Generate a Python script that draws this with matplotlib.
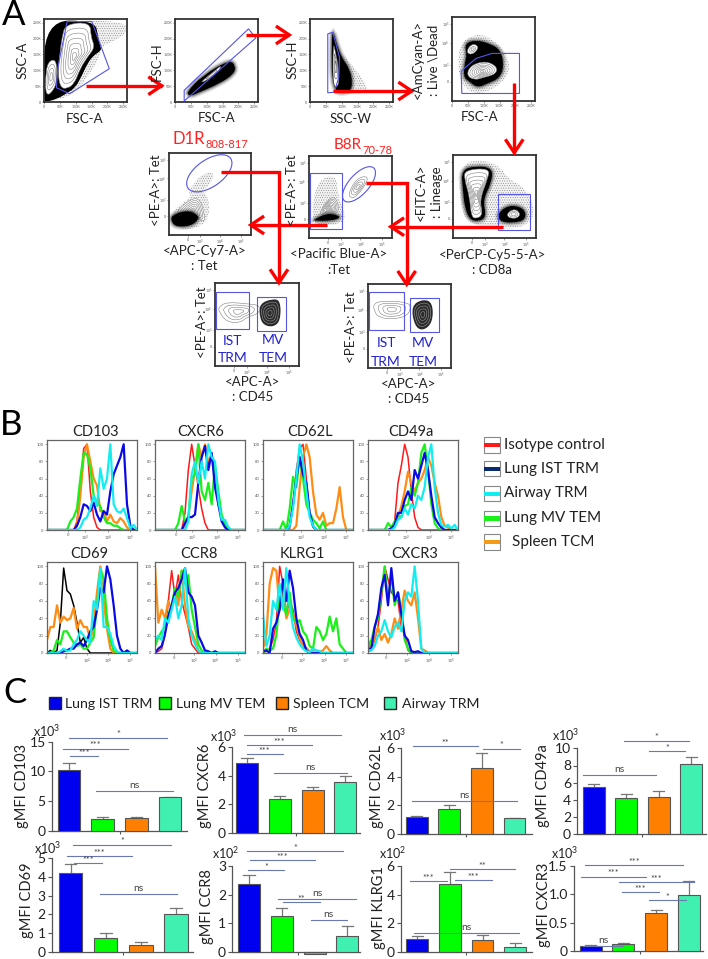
import numpy as np
import matplotlib
matplotlib.use('Agg')
import matplotlib.pyplot as plt
from matplotlib.patches import Polygon, PathPatch, Ellipse, Rectangle
from matplotlib.path import Path

plt.rcParams['font.family'] = ['Lato', 'DejaVu Sans']
plt.rcParams['mathtext.fontset'] = 'custom'
plt.rcParams['mathtext.rm'] = 'Lato'
plt.rcParams['hatch.linewidth'] = 0.3

W, H = 708, 959

# ---- histogram data, x grid is shared by all curves
hist_x = list(range(0, 280, 10))
cd103_red = [0,0,0,0,0,0,0,0,0,10,50,95,100,45,15,3,0,0,0,0,0,0,0,0,0,0,0,0]
cd103_orange = [0,0,0,0,0,0,0,0,0,5,40,85,100,80,60,52,22,22,10,18,10,8,14,10,3,0,0,0]
cd103_green = [0,0,0,0,0,0,0,10,15,25,60,90,88,72,40,32,28,15,8,8,5,5,2,0,0,0,0,0]
cd103_blue = [0,0,0,0,0,0,0,0,0,5,15,30,28,22,32,18,10,22,18,45,65,75,85,100,30,5,0,0]
cd103_cyan = [0,0,0,0,0,0,0,0,0,0,3,12,15,25,40,28,72,48,60,100,30,22,20,25,14,2,6,0]

cxcr6_red = [0,0,0,0,0,0,0,0,0,20,70,100,75,50,25,8,0,0,0,0,0,0,0,0,0,0,0,0]
cxcr6_orange = [0,0,0,0,0,0,0,0,0,5,15,45,70,100,85,100,78,88,65,30,15,8,2,0,0,0,0,0]
cxcr6_green = [0,0,0,0,0,0,0,8,28,10,15,60,65,100,45,35,55,30,75,45,18,5,0,0,0,0,0,0]
cxcr6_blue = [0,0,0,0,0,0,0,0,0,8,15,15,18,55,85,98,70,90,50,30,10,3,0,0,0,0,0,0]
cxcr6_cyan = [0,0,0,0,0,0,0,0,0,0,10,65,80,55,80,60,100,85,80,35,12,12,3,0,0,0,0,0]

cd62l_red = [0,0,0,0,0,0,0,0,2,30,70,95,100,60,20,3,0,0,0,0,0,0,0,0,0,0,0,0]
cd62l_orange = [0,0,0,0,0,0,0,0,0,0,5,50,85,100,85,45,18,12,20,5,8,8,25,50,15,0,0,0]
cd62l_green = [0,0,0,0,0,0,10,0,25,62,50,85,60,30,20,12,8,2,10,0,0,0,0,0,0,0,0,0]
cd62l_blue = [0,0,0,0,0,0,0,0,5,30,60,85,65,55,20,5,0,0,0,0,0,0,0,0,0,0,0,0]
cd62l_cyan = [0,0,0,0,0,0,0,0,5,25,60,100,80,45,15,5,0,0,0,0,0,0,0,0,0,0,0,0]

cd49a_red = [0,0,0,0,0,0,0,3,10,55,75,100,85,45,15,3,0,0,0,0,0,0,0,0,0,0,0,0]
cd49a_orange = [0,0,0,0,0,0,0,0,5,15,28,45,68,55,45,55,60,70,85,75,55,40,15,5,3,0,0,0]
cd49a_green = [0,0,0,0,0,0,8,3,10,18,15,28,30,50,40,55,90,100,70,30,8,2,0,0,0,0,0,0]
cd49a_blue = [0,0,0,0,0,0,0,2,6,20,20,35,45,35,70,60,75,90,70,40,15,8,3,0,0,0,0,0]
cd49a_cyan = [0,0,0,0,0,0,0,0,3,12,15,25,18,30,25,40,35,50,85,100,50,20,6,4,6,2,6,0]

cd69_black = [0,3,0,3,35,98,72,68,55,35,12,18,5,0,0,0,0,0,0,0,0,0,0,0,0,0,0,0]
cd69_orange = [15,30,30,55,35,42,38,40,52,28,38,30,30,15,30,70,100,60,28,5,0,0,0,0,0,0,0,0]
cd69_green = [0,0,3,15,10,25,25,18,12,8,10,5,5,12,18,55,98,85,40,15,3,0,0,0,0,0,0,0]
cd69_blue = [0,0,0,0,0,2,3,5,5,10,12,8,15,25,30,50,75,70,100,85,55,20,5,0,3,0,0,0]
cd69_cyan = [0,0,0,0,2,5,2,3,10,15,25,20,15,12,60,50,98,30,30,22,8,2,0,0,0,0,0,0]

ccr8_red = [0,2,5,20,60,95,65,90,60,45,30,10,5,0,0,0,0,0,0,0,0,0,0,0,0,0,0,0]
ccr8_orange = [100,35,50,40,60,50,75,55,95,55,30,25,15,3,0,0,0,0,0,0,0,0,0,0,0,0,0,0]
ccr8_green = [8,18,25,30,45,55,75,65,95,80,90,50,30,10,3,0,0,0,0,0,0,0,0,0,0,0,0,0]
ccr8_blue = [0,5,8,22,42,55,70,75,85,98,70,65,55,20,12,3,2,0,2,0,0,0,0,0,0,0,0,0]
ccr8_cyan = [15,20,15,40,35,50,65,40,55,98,40,20,10,3,0,0,0,0,0,0,0,0,0,0,0,0,0,0]

klrg1_red = [0,2,5,15,35,100,80,45,60,50,25,15,8,3,0,0,0,0,0,0,0,0,0,0,0,0,0,0]
klrg1_orange = [5,20,80,98,95,50,70,40,50,45,32,18,8,6,2,3,3,1,3,8,3,0,0,0,0,0,0,0]
klrg1_green = [0,5,3,5,20,65,55,45,70,40,35,38,25,20,8,5,30,25,15,22,42,25,40,10,5,0,0,0]
klrg1_blue = [2,3,0,28,35,50,85,60,95,75,40,22,15,3,0,0,0,0,0,0,0,0,0,0,0,0,0,0]
klrg1_cyan = [45,8,20,60,50,80,50,98,55,30,18,10,5,2,1,5,3,2,0,0,0,0,0,0,0,0,0,0]

cxcr3_red = [2,3,15,30,60,100,85,70,65,60,30,22,3,0,0,0,0,0,0,0,0,0,0,0,0,0,0,0]
cxcr3_orange = [15,5,18,30,15,22,12,22,40,28,50,72,60,55,70,40,5,3,0,0,0,0,0,0,0,0,0,0]
cxcr3_green = [5,15,30,40,70,100,60,90,55,70,50,15,5,0,0,0,0,0,0,0,0,0,0,0,0,0,0,0]
cxcr3_blue = [5,5,30,45,75,90,55,98,60,70,45,20,15,2,1,2,0,0,0,0,0,0,0,0,0,0,0,0]
cxcr3_cyan = [3,3,8,20,25,38,25,18,30,35,25,60,70,65,100,60,5,0,0,0,0,0,0,0,0,0,0,0]

# ---- bar data: means and top of the error bars
cell_types = ['Lung IST TRM', 'Lung MV TEM', 'Spleen TCM', 'Airway TRM']
cd103_mean = [10.3, 2.0, 2.1, 5.7]
cd103_top = [11.45, 2.4, 2.3, 5.75]
cxcr6_mean = [4.86, 2.36, 2.98, 3.58]
cxcr6_top = [5.25, 2.6, 3.2, 3.95]
cd62l_mean = [1.22, 1.73, 4.62, 1.1]
cd62l_top = [1.25, 2.0, 5.66, 1.12]
cd49a_mean = [5.5, 4.26, 4.3, 8.14]
cd49a_top = [5.88, 4.72, 5.0, 9.02]
cd69_mean = [4.17, 0.77, 0.37, 2.03]
cd69_top = [4.65, 1.0, 0.53, 2.36]
ccr8_mean = [2.36, 1.25, -0.06, 0.55]
ccr8_top = [2.68, 1.52, -0.06, 0.92]
klrg1_mean = [0.87, 4.73, 0.82, 0.33]
klrg1_top = [1.07, 5.6, 1.15, 0.58]
cxcr3_mean = [0.088, 0.118, 0.665, 0.98]
cxcr3_top = [0.105, 0.15, 0.72, 1.23]

# ---- gating outlines, FSC/SSC in K, log axes in display units 0-100
a1_halo = [(2,257),(260,257),(260,215),(213,189),(177,173),(177,142),(146,94),(114,47),(78,16),(10,0),(0,5)]
a1_black = [(0,257),(161,257),(171,205),(177,178),(182,163),(156,147),(137,121),(120,84),(99,45),(73,28),(42,10),(5,0),(0,5)]
a1_main = [(68,246),(146,252),(148,205),(161,173),(137,142),(114,105),(96,58),(73,42),(52,45),(44,89),(50,152),(57,205)]
a1_left = [(5,16),(5,94),(16,131),(40,133),(40,68),(31,37)]
a1_gate = [(73,254),(151,254),(206,105),(81,26),(39,45),(44,110)]
a2_black = [(36,31),(88,84),(172,133),(191,115),(187,89),(140,58),(78,31),(47,18)]
a2_core = [(78,60),(120,94),(149,118),(135,94),(99,68)]
a2_gate = [(29,37),(232,231),(255,202),(29,3)]
a3_halo = [(70,230),(85,180),(110,140),(155,90),(185,40),(175,25),(70,25)]
a3_black = [(70,30),(68,200),(73,225),(85,180),(100,140),(125,105),(135,60),(125,30)]
a3_core = [(72,45),(73,190),(80,160),(90,110),(92,50)]
a3_gate = [(56,215),(72,220),(93,141),(91,79),(77,31),(56,29)]
a4_halo = [(24,69),(76,81),(128,75),(180,53),(180,29),(118,11),(65,9),(29,21),(19,41)]
a4_black = [(40,69),(76,73),(118,69),(154,61),(164,41),(149,27),(112,21),(81,16),(55,23),(36,29),(40,45),(47,55)]
a4_top = [(45,59),(60,68),(81,67),(81,61),(60,55)]
a4_main = [(45,31),(60,43),(107,48),(143,41),(138,32),(97,28),(71,25)]
a4_gate = [(31,9),(29,36),(76,51),(126,57),(213,57),(213,9)]
a5_halo = [(10,88),(30,95),(55,88),(68,70),(85,62),(98,40),(95,18),(70,10),(20,15),(8,40)]
a5_black1 = [(10,82),(28,87),(48,84),(46,66),(36,46),(40,26),(32,20),(20,22),(14,38),(12,58)]
a5_black2 = [(54,30),(68,40),(86,36),(88,22),(72,18),(56,20)]
a5_core1 = [(14,82),(44,84),(42,72),(32,46),(36,28),(28,23),(22,26),(20,50),(14,70)]
a5_core2 = [(64,28),(72,35),(80,32),(80,25),(70,23)]
a5_gate = [(54,53),(93,53),(93,10),(54,10)]
d1r_halo = [(1,26),(21,42),(37,56),(49,46),(49,18),(29,6),(5,10)]
d1r_white = [(7,26),(23,42),(37,46),(43,26),(44,16),(33,20),(21,29)]
d1r_core = [(3,24),(21,30),(33,26),(37,20),(27,11),(9,10),(3,16)]
d1r_cloud = [(23,52),(37,72),(53,78),(55,70),(43,54),(27,46)]
b8r_halo = [(3,26),(9,70),(33,78),(35,50),(45,26),(37,16),(9,16)]
b8r_white = [(11,28),(23,48),(33,50),(37,30),(21,30)]
b8r_core = [(5,22),(21,30),(35,28),(37,24),(25,21),(9,21)]
b8r_ring = [(47,54),(57,72),(69,76),(71,70),(59,52),(51,48)]
ist1_left = [(4,71),(14,77),(38,75),(54,73),(52,63),(38,59),(30,52),(14,53),(5,65)]
ist1_right = [(53,75),(68,81),(78,79),(78,55),(70,47),(58,49),(53,59)]
ist2_left = [(6,78),(26,80),(46,78),(52,74),(48,62),(30,58),(14,60),(8,66)]
ist2_right = [(52,74),(66,82),(78,78),(78,54),(66,44),(56,50)]

fig = plt.figure(figsize=(W / 100, H / 100), dpi=100, facecolor='white')
over = fig.add_axes([0, 0, 1, 1], zorder=20)
over.set_xlim(0, W)
over.set_ylim(H, 0)
over.axis('off')
over.patch.set_alpha(0)

GATE = '#5555e8'
TXT = '#222222'


def px_axes(x0, y0, x1, y1):
    return fig.add_axes([x0 / W, 1 - y1 / H, (x1 - x0) / W, (y1 - y0) / H])


def label(x, y, s, size=9.5, rot=0, color=TXT, ha='center'):
    over.text(x, y, s, fontsize=size, rotation=rot, color=color, ha=ha, va='center')


def smooth(points):
    # closed rounded outline through the midpoints of the digitised polygon
    pts = np.array(points, float)
    mids = (pts + np.roll(pts, -1, axis=0)) / 2
    verts = [mids[-1]]
    codes = [Path.MOVETO]
    for p, m in zip(pts, mids):
        verts += [p, m]
        codes += [Path.CURVE3, Path.CURVE3]
    return Path(verts, codes)


def blob(ax, points, fc='black', ec='none', lw=0.0, hatch=None, z=2, soft=True):
    # soft grey strokes stand in for the loose dots round each population
    if fc == 'black' and soft:
        for width, a in ((5, .15), (3, .25), (1.5, .4)):
            ax.add_patch(PathPatch(smooth(points), fc='none', ec='#333333', lw=width, alpha=a, zorder=z))
    ax.add_patch(PathPatch(smooth(points), fc=fc, ec=ec, lw=lw, hatch=hatch, zorder=z))


def contours(ax, points, scales=(1, .85, .7, .55, .4, .25, .12), ec='#808080', fill=True):
    pts = np.array(points, float)
    mid = pts.mean(axis=0)
    for i, s in enumerate(scales):
        fc = 'white' if (i == 0 and fill) else 'none'
        blob(ax, mid + (pts - mid) * s, fc=fc, ec=ec, lw=0.4, z=3)


def stipple(ax, points):
    blob(ax, points, fc='#f2f2f2', ec='#777777', lw=0, hatch='.......', z=1)


def gate(ax, points):
    ax.add_patch(Polygon(points, closed=True, fc='none', ec=GATE, lw=0.8, zorder=5))


def flow_axes(box, xlim, ylim, xticks, xlabels, yticks, ylabels):
    ax = px_axes(*box)
    ax.set_xlim(*xlim)
    ax.set_ylim(*ylim)
    ax.set_xticks(xticks, xlabels)
    ax.set_yticks(yticks, ylabels)
    ax.tick_params(length=1.5, width=0.4, labelsize=2.6, pad=0.6, colors='#555555')
    for s in ax.spines.values():
        s.set_linewidth(1.3)
        s.set_color('#333333')
    return ax


k_ticks = [0, 50, 100, 150, 200, 250]
k_labels = ['0', '50K', '100K', '150K', '200K', '250K']
log_x = [23, 38, 62, 88]
log_x_labels = ['0', '$10^3$', '$10^4$', '$10^5$']
log_y = [23, 43, 69, 92]
log_y_labels = ['0', '$10^3$', '$10^4$', '$10^5$']

# ---- panel A
ax = flow_axes((44, 19, 127, 102), (0, 262), (0, 262), k_ticks, k_labels, k_ticks, k_labels)
stipple(ax, a1_halo)
blob(ax, a1_black, soft=False)
contours(ax, a1_main)
contours(ax, a1_left, (1, .75, .5, .25))
gate(ax, a1_gate)

ax = flow_axes((175, 19, 258, 102), (0, 262), (0, 262), k_ticks, k_labels, k_ticks, k_labels)
blob(ax, a2_black)
contours(ax, a2_core, (1, .6))
gate(ax, a2_gate)

ax = flow_axes((310, 19, 393, 102), (0, 262), (0, 262), k_ticks, k_labels, k_ticks, k_labels)
stipple(ax, a3_halo)
blob(ax, a3_black)
contours(ax, a3_core, (1, .6, .3), ec='#555555')
gate(ax, a3_gate)

ax = flow_axes((452, 17.5, 535, 101), (0, 262), (0, 100), k_ticks, k_labels, log_y, log_y_labels)
stipple(ax, a4_halo)
blob(ax, a4_black)
contours(ax, a4_top, (1, .6, .3))
contours(ax, a4_main)
gate(ax, a4_gate)

ax = flow_axes((453, 155, 536, 238), (0, 100), (0, 100), log_x, log_x_labels, log_y, log_y_labels)
stipple(ax, a5_halo)
blob(ax, a5_black1)
blob(ax, a5_black2)
contours(ax, a5_core1)
contours(ax, a5_core2, (1, .7, .4))
gate(ax, a5_gate)

ax = flow_axes((169, 153, 251, 235), (0, 100), (0, 100), log_x, log_x_labels, log_y, log_y_labels)
stipple(ax, d1r_cloud)
stipple(ax, d1r_halo)
contours(ax, d1r_white)
blob(ax, d1r_core, z=4)

ax = flow_axes((309, 156, 392, 238), (0, 100), (0, 100), log_x, log_x_labels, log_y, log_y_labels)
stipple(ax, b8r_halo)
contours(ax, b8r_white)
blob(ax, b8r_core, z=4)
contours(ax, b8r_ring, (1, .75, .5, .25))
ax.add_patch(Rectangle((1, 11), 39, 68, fc='none', ec=GATE, lw=0.8, zorder=5))

for box, left, right, r1, r2 in [((215, 283, 299, 366), ist1_left, ist1_right, (1, 89, 40, 44), (50, 83, 35, 41)),
                                 ((368, 284, 451, 368), ist2_left, ist2_right, (1, 90, 42, 45), (50, 83, 35, 40))]:
    ax = flow_axes(box, (0, 100), (0, 100), log_x, log_x_labels, log_y, log_y_labels)
    contours(ax, left, (1, .75, .5, .25))
    blob(ax, right, fc='#2a2a2a')
    contours(ax, right, (.8, .6, .4, .2), ec='#9a9a9a', fill=False)
    for x, y, w, h in (r1, r2):
        ax.add_patch(Rectangle((x, y - h), w, h, fc='none', ec=GATE, lw=0.8, zorder=5))

over.add_patch(Ellipse((209.3, 173.3), 52, 27, angle=-35, fc='none', ec=GATE, lw=0.8))
over.add_patch(Ellipse((359, 184.3), 44, 20, angle=-48, fc='none', ec=GATE, lw=0.8))


def arrow(points):
    xs, ys = zip(*points)
    over.plot(xs, ys, color='#ff0000', lw=2.4, solid_capstyle='butt', solid_joinstyle='miter')
    (x0, y0), (x1, y1) = points[-2], points[-1]
    d = np.array([x1 - x0, y1 - y0], float)
    d /= np.hypot(*d)
    n = np.array([-d[1], d[0]])
    tip = np.array([x1, y1])
    a = tip - d * 12 + n * 8
    b = tip - d * 12 - n * 8
    over.plot([a[0], tip[0], b[0]], [a[1], tip[1], b[1]], color='#ff0000', lw=2.4, solid_joinstyle='miter')


arrow([(86, 85.7), (161.7, 85.7)])
arrow([(245.7, 35), (289.3, 35)])
arrow([(333, 91), (411.7, 91)])
arrow([(514.3, 83.3), (514.3, 152.7)])
arrow([(503, 226.7), (390.7, 226.7)])
arrow([(326.7, 225), (250.7, 225)])
arrow([(221, 172.3), (279, 172.3), (279, 282.7)])
arrow([(365.7, 183.3), (406.7, 183.3), (406.7, 284.3)])

label(14, 15, 'A', 25, color='black')
label(11, 425, 'B', 25, color='black')
label(15, 693, 'C', 25, color='black')

label(85, 119, 'FSC-A')
label(23, 60, 'SSC-A', rot=90)
label(216.7, 118.3, 'FSC-A')
label(156.7, 61.7, 'FSC-H', rot=90)
label(351, 119, 'SSC-W')
label(293, 60, 'SSC-H', rot=90)
label(418, 59, '<AmCyan-A>', rot=90)
label(434, 60, ': Live \\Dead', rot=90)
label(480, 117.3, 'FSC-A')
label(421, 192.7, '<FITC-A>', rot=90)
label(436.7, 191.7, ': Lineage', rot=90)
label(492.3, 255, '<PerCP-Cy5-5-A>')
label(492.3, 270, ': CD8a')
label(156, 190, '<PE-A>: Tet', rot=90)
label(204.3, 250.7, '<APC-Cy7-A>')
label(204.3, 266, ': Tet')
label(291.7, 190, '<PE-A>: Tet', rot=90)
label(338.7, 254, '<Pacific Blue-A>')
label(338.7, 270, ':Tet')
label(201.7, 321.7, '<PE-A>: Tet', rot=90)
label(252.7, 382.3, '<APC-A>')
label(252.7, 396.7, ': CD45')
label(350.7, 326.7, '<PE-A>: Tet', rot=90)
label(408.3, 384, '<APC-A>')
label(408.3, 399, ': CD45')

label(172.3, 139, 'D1R', 12, color='#ff2222', ha='left')
label(205, 145, '808-817', 8, color='#ff2222', ha='left')
label(333.3, 145, 'B8R', 11, color='#ff2222', ha='left')
label(362.7, 151, '70-78', 8, color='#ff2222', ha='left')

BLUE_TXT = '#2222cc'
for x, y, s in [(232.7, 340.7, 'IST'), (232.7, 358.3, 'TRM'), (273.3, 340, 'MV'), (273.3, 358.3, 'TEM'),
                (386, 343.3, 'IST'), (386, 361.7, 'TRM'), (423.3, 343.3, 'MV'), (423.3, 361.7, 'TEM')]:
    label(x, y, s, 10, color=BLUE_TXT)

# ---- panel B
H_RED, H_BLUE, H_CYAN, H_GREEN, H_ORANGE = '#ff1a1a', '#0a0ae6', '#12eef0', '#1af01a', '#ff8c14'


def hist_panel(box, title, title_x, first, orange, green, blue, cyan, xt, first_color=H_RED):
    ax = px_axes(*box)
    ax.plot(hist_x, first, color=first_color, lw=1.1)
    ax.plot(hist_x, orange, color=H_ORANGE, lw=1.6)
    ax.plot(hist_x, green, color=H_GREEN, lw=1.6)
    ax.plot(hist_x, blue, color=H_BLUE, lw=1.6)
    ax.plot(hist_x, cyan, color=H_CYAN, lw=1.6)
    ax.set_xlim(0, 270)
    ax.set_ylim(0, 105)
    ax.set_xticks(xt, ['0', '$10^3$', '$10^4$', '$10^5$'])
    ax.set_yticks([0, 20, 40, 60, 80, 100])
    ax.tick_params(length=1.5, width=0.4, labelsize=3, pad=1, colors='#555555')
    for s in ax.spines.values():
        s.set_linewidth(0.9)
        s.set_color('#666666')
    label(title_x, box[1] - 8, title, 10.5)


hist_panel((47, 440, 137, 530), 'CD103', 95.7, cd103_red, cd103_orange, cd103_green, cd103_blue, cd103_cyan, [63, 113, 183, 248])
hist_panel((155, 440, 245, 530), 'CXCR6', 201, cxcr6_red, cxcr6_orange, cxcr6_green, cxcr6_blue, cxcr6_cyan, [62, 112, 186, 249])
hist_panel((263, 440, 353, 530), 'CD62L', 310, cd62l_red, cd62l_orange, cd62l_green, cd62l_blue, cd62l_cyan, [63, 115, 185, 250])
hist_panel((368, 440, 458, 530), 'CD49a', 410.7, cd49a_red, cd49a_orange, cd49a_green, cd49a_blue, cd49a_cyan, [63, 113, 185, 248])
hist_panel((47, 562, 137, 653), 'CD69', 89, cd69_black, cd69_orange, cd69_green, cd69_blue, cd69_cyan, [56, 120, 183, 248], first_color='black')
hist_panel((155, 562, 245, 653), 'CCR8', 199.3, ccr8_red, ccr8_orange, ccr8_green, ccr8_blue, ccr8_cyan, [56, 116, 182, 249])
hist_panel((263, 562, 353, 653), 'KLRG1', 302.7, klrg1_red, klrg1_orange, klrg1_green, klrg1_blue, klrg1_cyan, [58, 117, 185, 250])
hist_panel((368, 562, 458, 653), 'CXCR3', 415, cxcr3_red, cxcr3_orange, cxcr3_green, cxcr3_blue, cxcr3_cyan, [55, 117, 183, 248])

for y0, c, s, tx in [(437.3, H_RED, 'Isotype control', 504), (461, '#0a2a70', 'Lung IST TRM', 504),
                     (486, H_CYAN, 'Airway TRM', 504), (510.7, H_GREEN, 'Lung MV TEM', 504),
                     (534.3, '#f59a14', 'Spleen TCM', 511.7)]:
    over.add_patch(Rectangle((484.3, y0), 16, 15.4, fc='white', ec='#888888', lw=0.8))
    over.add_patch(Rectangle((484.3, y0 + 5.5), 16, 4.4, fc=c, ec='none'))
    label(tx, y0 + 7.5, s, 11, ha='left')

# ---- panel C
C_BLUE, C_GREEN, C_ORANGE, C_TEAL = '#0000f0', '#00ff00', '#ff7f00', '#40f0b0'
bar_colors = [C_BLUE, C_GREEN, C_ORANGE, C_TEAL]
for x, tx, c, s in zip([49, 158.7, 275.7, 384], [65, 176, 292.7, 401.7], bar_colors, cell_types):
    over.add_patch(Rectangle((x, 697), 12, 12, fc=c, ec='#222222', lw=1))
    label(tx, 703.5, s, 10.2, ha='left')


def bar_panel(box, y_max, first, step, means, tops, ticks, tick_labels, name, name_pos, mult, mult_pos, sig):
    ax = px_axes(*box)
    xs = np.arange(4)
    ax.bar(xs, means, width=0.67, color=bar_colors, edgecolor='#555555', lw=0.8, zorder=3, clip_on=False)
    for x, m, t in zip(xs, means, tops):
        if t > m:
            ax.plot([x, x], [m, t], color='#777777', lw=0.9, zorder=2)
            ax.plot([x - .17, x + .17], [t, t], color='#777777', lw=0.9, zorder=2)
    ax.set_xlim((box[0] - first) / step, (box[2] - first) / step)
    ax.set_ylim(0, y_max)
    ax.set_xticks([1.5], [''])
    ax.set_yticks(ticks, tick_labels)
    ax.tick_params(axis='y', length=3, width=0.8, labelsize=10, pad=1.5, labelcolor=TXT, color='#555555')
    ax.tick_params(axis='x', length=2, width=0.8, color='#555555')
    for s in ('top', 'right'):
        ax.spines[s].set_visible(False)
    for s in ('left', 'bottom'):
        ax.spines[s].set_linewidth(0.9)
        ax.spines[s].set_color('#555555')
    label(name_pos[0], name_pos[1], name, 10.5, rot=90)
    label(mult_pos[0], mult_pos[1], mult, 9)
    for y, x0, x1, s in sig:
        over.plot([x0, x1], [y, y], color='#6a78b0', lw=0.8)
        if s == 'ns':
            label((x0 + x1) / 2, y - 5.5, s, 7.5, color='#444444')
        else:
            label((x0 + x1) / 2, y - 3, s, 6.5, color='#444444')


bar_panel((52, 741.7, 187, 831), 15, 69, 33.7, cd103_mean, cd103_top, [0, 5, 10, 15], ['0', '5', '10', '15'],
          'gMFI CD103', (22, 786), 'x$10^3$', (47, 731),
          [(737.7, 69, 166.7, '*'), (749, 62.7, 127.7, '***'), (756, 70, 98, '***'), (791, 96, 172.7, 'ns')])
bar_panel((231.7, 746.7, 360, 833.3), 6, 247, 32.8, cxcr6_mean, cxcr6_top, [0, 2, 4, 6], ['0', '2', '4', '6'],
          'gMFI CXCR6', (205, 786), 'x$10^3$', (224, 736),
          [(735.3, 244, 340.7, 'ns'), (745.3, 246.7, 311.7, '***'), (754.3, 246.7, 282.7, '***'), (773.3, 274, 346.7, 'ns')])
bar_panel((400.7, 747.7, 531.7, 834.3), 6, 416.7, 32.6, cd62l_mean, cd62l_top, [0, 2, 4, 6], ['0', '2', '4', '6'],
          'gMFI CD62L', (377, 786), 'x$10^3$', (393, 735),
          [(746.3, 412.7, 477.7, '**'), (749, 483.3, 520, '*'), (801.3, 411.7, 516.7, 'ns')])
bar_panel((577.3, 748.3, 706, 834.3), 10, 593.7, 32.5, cd49a_mean, cd49a_top, [0, 2, 4, 6, 8, 10], ['0', '2', '4', '6', '8', '10'],
          'gMFI CD49a', (543, 786), 'x$10^3$', (566, 735),
          [(740.7, 624.3, 689.3, '*'), (751.3, 649, 685, '*'), (775.3, 582.7, 656, 'ns')])
bar_panel((52, 857.7, 192.7, 952.3), 5, 70.5, 35.2, cd69_mean, cd69_top, [0, 1, 2, 3, 4, 5], ['0', '1', '2', '3', '4', '5'],
          'gMFI CD69', (27, 900), 'x$10^3$', (48, 847.7),
          [(845, 73.3, 171, '*'), (856, 66.7, 131.7, '***'), (863.3, 74, 102.3, '***'), (894.3, 100, 177.3, 'ns')])
bar_panel((232.3, 866, 360, 952), 3, 249, 32.8, ccr8_mean, ccr8_top, [0, 1, 2, 3], ['0', '1', '2', '3'],
          'gMFI CCR8', (207, 907), 'x$10^2$', (225.5, 852.7),
          [(851.3, 246.7, 343.3, '*'), (860, 250, 315, '***'), (870, 248.3, 284, '*'), (899.3, 278.3, 356, 'ns'),
           (902.3, 283.3, 320, '**'), (919.7, 310.7, 346.7, 'ns')])
bar_panel((401, 866, 531.7, 951.7), 6, 417.3, 32.6, klrg1_mean, klrg1_top, [0, 2, 4, 6], ['0', '2', '4', '6'],
          'gMFI KLRG1', (379, 908), 'x$10^2$', (392.5, 852.7),
          [(869.3, 450, 515, '**'), (881.3, 410.3, 446.7, '***'), (880.3, 455.3, 492, '***'), (933.3, 414, 519, 'ns')])
bar_panel((574, 866, 703, 951), 1.5, 590.7, 32.7, cxcr3_mean, cxcr3_top, [0, 0.5, 1.0, 1.5], ['0', '0.5', '1.0', '1.5'],
          'gMFI CXCR3', (544, 905), 'x$10^3$', (564.5, 852.7),
          [(865.3, 585, 682.7, '***'), (877, 580.7, 645.7, '***'), (882, 619.3, 694, '***'), (892.3, 622.3, 659, '***'),
           (900.3, 649, 685.7, '*'), (946.3, 583, 623, 'ns')])

fig.savefig('out.png', dpi=100, facecolor='white')
